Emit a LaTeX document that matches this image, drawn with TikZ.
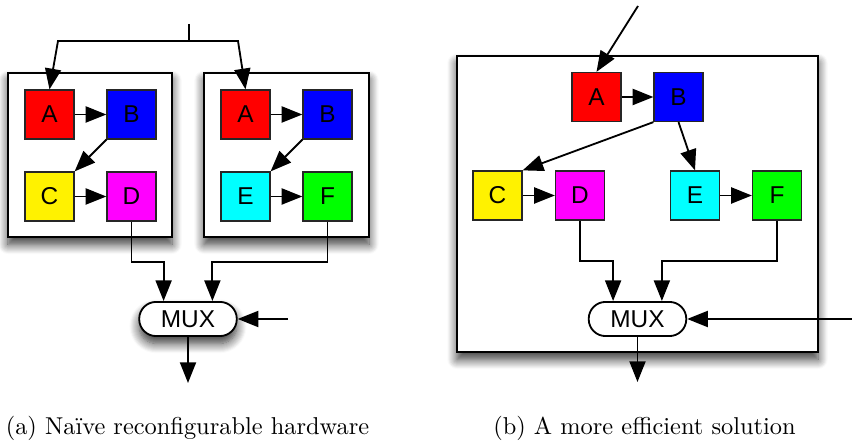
\documentclass[tikz,border=0pt]{standalone}
\usepackage{fontspec}
\newfontfamily\blkfont{Liberation Sans}
\usetikzlibrary{arrows.meta,shadows.blur}
\definecolor{mag}{RGB}{255,0,255}
\definecolor{cyn}{RGB}{0,255,255}
\definecolor{grn}{RGB}{0,255,0}

\begin{document}
\begin{tikzpicture}[x=0.41pt,y=-0.41pt,line width=0.75pt,
    >={Triangle[length=8.5pt,width=6.6pt,fill=black]},
    blk/.style={draw=black!85, line width=0.6pt, minimum size=20pt, inner sep=0pt,
      font=\blkfont\fontsize{10}{12}\selectfont},
    shad/.style={blur shadow={shadow xshift=0pt, shadow yshift=-3pt,
      shadow blur radius=4pt, shadow blur steps=10, shadow opacity=80}},
    panel/.style={draw, line width=1pt, fill=white, shad},
    mux/.style={draw, fill=white, rounded corners=6.9pt, minimum width=40pt,
      minimum height=14pt, inner sep=0pt,
      font=\blkfont\fontsize{10}{12}\selectfont}]
  \useasboundingbox (0,0) rectangle (852,443);
  \def \drop {40}
  \def \gap {10pt}

  % (a) one block per configuration
  \draw[panel] (8,73) rectangle (172,237);
  \draw[panel] (204,73) rectangle (369,237);
  \foreach \nm/\lbl/\col/\x/\y in {a1/A/red/49.5/114.5, b1/B/blue/131.5/114.5,
      c1/C/yellow/49.5/196.5, d1/D/mag/131.5/196.5,
      a2/A/red/245.5/114.5, b2/B/blue/327.5/114.5,
      e2/E/cyn/245.5/196.5, f2/F/grn/327.5/196.5}{
    \node[blk, fill=\col] (\nm) at (\x,\y) {\lbl};
  }
  \draw[->] (a1) -- (b1);
  \draw[->] (b1.south west) -- (c1.north east);
  \draw[->] (c1) -- (d1);
  \draw[->] (a2) -- (b2);
  \draw[->] (b2.south west) -- (e2.north east);
  \draw[->] (e2) -- (f2);

  \coordinate (in1) at (189,24);
  \coordinate (fork) at (189,41);
  \draw (in1) -- (fork);
  \draw[->] (fork) -- (58,41) -- (a1.north);
  \draw[->] (fork) -- (238,41) -- (a2.north);

  \node[mux, shad] (mux1) at (188,319) {MUX};
  \draw[->] (d1.south) -- ++(0,\drop) -| ([xshift=-\gap]mux1.north);
  \draw[->] (f2.south) -- ++(0,\drop) -| ([xshift=\gap]mux1.north);
  \coordinate (sel1) at (288,319);
  \coordinate (out1) at (188,383);
  \draw[->] (sel1) -- (mux1.east);
  \draw[->] (mux1.south) -- (out1);

  \node[anchor=base] (capa) at (187.5,435) {(a) Naïve reconfigurable hardware};

  % (b) shared blocks
  \draw[panel] (457,56) rectangle (818,352);
  \foreach \nm/\lbl/\col/\x/\y in {a3/A/red/596.5/97, b3/B/blue/678.5/97,
      c3/C/yellow/497.5/195.5, d3/D/mag/580/195.5,
      e3/E/cyn/695/195.5, f3/F/grn/777/195.5}{
    \node[blk, fill=\col] (\nm) at (\x,\y) {\lbl};
  }
  \coordinate (in2) at (638,6);
  \draw[->] (in2) -- (a3.north);
  \draw[->] (a3) -- (b3);
  \draw[->] (b3.south west) -- (c3.north east);
  \draw[->] (b3.south) -- (e3.north);
  \draw[->] (c3) -- (d3);
  \draw[->] (e3) -- (f3);

  \node[mux] (mux2) at (637.5,319) {MUX};
  \draw[->] (d3.south) -- ++(0,\drop) -| ([xshift=-\gap]mux2.north);
  \draw[->] (f3.south) -- ++(0,\drop) -| ([xshift=\gap]mux2.north);
  \coordinate (sel2) at (852,319);
  \coordinate (out2) at (637.5,382);
  \draw[->] (sel2) -- (mux2.east);
  \draw[->] (mux2.south) -- (out2);

  \node[anchor=base] (capb) at (644.5,435) {(b) A more efficient solution};
\end{tikzpicture}
\end{document}
